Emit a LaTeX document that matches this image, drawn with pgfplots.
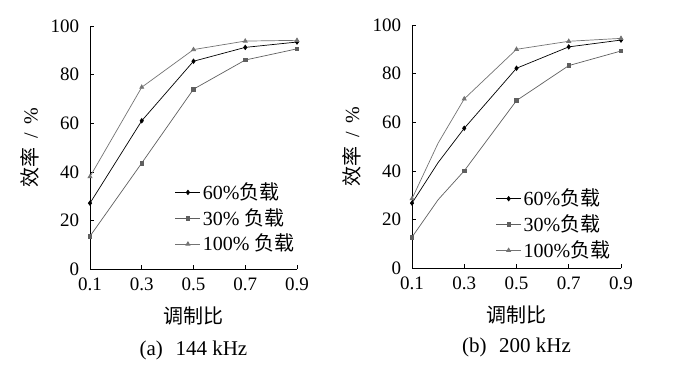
\documentclass[border=0pt]{standalone}
\usepackage{fontspec}
\setmainfont{Liberation Serif}
\newfontfamily\cjk{Noto Sans CJK SC}
\usepackage{pgfplots}
\pgfplotsset{compat=1.18}
\definecolor{gA}{RGB}{0,0,0}
\definecolor{gB}{RGB}{95,95,95}
\definecolor{gC}{RGB}{115,115,115}
\begin{document}
\fontsize{20}{23}\selectfont
\begin{tikzpicture}
\useasboundingbox (0pt,0pt) rectangle (683pt,376pt);
\pgfplotsset{
  myax/.style={
    scale only axis, axis lines*=left,
    xmin=0.1, xmax=0.9, ymin=0, ymax=100,
    xtick={0.1,0.3,0.5,0.7,0.9},
    xticklabels={0.1,0.3,0.5,0.7,0.9},
    ytick={0,20,40,60,80,100},
    tick align=inside, major tick length=4pt,
    /pgf/number format/assume math mode=true,
    font=\fontsize{20}{23}\selectfont,
    tick label style={font=\fontsize{19}{22}\selectfont},
    yticklabel style={xshift=-4pt},
    xticklabel style={yshift=-2pt},
    tick style={black, line width=0.6pt},
    axis line style={black, line width=0.6pt},
    clip=false,
    xlabel={\cjk 调制比},
    ylabel={{\cjk 效率}\hspace{0.45em}/\hspace{0.45em}\%},
    xlabel style={at={(axis description cs:0.5,-0.195)}, anchor=center, font=\fontsize{20}{23}\selectfont},
    ylabel style={at={(axis description cs:-0.29,0.5)}, anchor=center, font=\fontsize{20}{23}\selectfont},
    legend style={draw=none, fill=none, inner sep=0pt, row sep=2pt,
      font=\fontsize{20}{23}\selectfont, cells={anchor=west}},
    legend image code/.code={\draw[mark indices={2}] plot coordinates {(0pt,0pt) (12.5pt,0pt) (25pt,0pt)};},
  },
  s60/.style={color=gA, line width=0.7pt, mark=diamond*, mark size=2.2pt},
  s30/.style={color=gB, line width=0.7pt, mark=square*, mark size=1.8pt},
  s100/.style={color=gC, line width=0.7pt, mark=triangle*, mark size=2.3pt},
}
\begin{axis}[myax, at={(90pt,107pt)}, anchor=origin, width=207pt, height=243pt,
  legend style={at={(axis description cs:0.41,0.365)}, anchor=north west}]
\addplot[s60] coordinates {(0.1,27.1) (0.3,61.0) (0.5,85.5) (0.7,91.2) (0.9,93.4)};
\addlegendentry{60\%{\cjk 负载}}
\addplot[s30] coordinates {(0.1,13.5) (0.3,43.6) (0.5,74.0) (0.7,86.0) (0.9,90.6)};
\addlegendentry{30\% {\cjk 负载}}
\addplot[s100] coordinates {(0.1,38.0) (0.3,74.8) (0.5,90.3) (0.7,93.8) (0.9,94.1)};
\addlegendentry{100\% {\cjk 负载}}
\node[anchor=center, font=\fontsize{21}{24}\selectfont] at (axis description cs:0.5,-0.335) {(a)\hspace{0.6em}144 kHz};
\end{axis}
\begin{axis}[myax, at={(412pt,108pt)}, anchor=origin, width=209pt, height=243pt,
  legend style={at={(axis description cs:0.40,0.335)}, anchor=north west}]
\addplot[s60, mark indices={1,3,4,5,6}] coordinates {(0.1,26.7) (0.2,43.4) (0.3,57.5) (0.5,82.2) (0.7,91.0) (0.9,93.8)};
\addlegendentry{60\%{\cjk 负载}}
\addplot[s30, mark indices={1,3,4,5,6}] coordinates {(0.1,12.7) (0.2,28.1) (0.3,40.0) (0.5,68.9) (0.7,83.3) (0.9,89.3)};
\addlegendentry{30\%{\cjk 负载}}
\addplot[s100, mark indices={1,3,4,5,6}] coordinates {(0.1,28.5) (0.2,51.4) (0.3,69.6) (0.5,90.0) (0.7,93.3) (0.9,94.5)};
\addlegendentry{100\%{\cjk 负载}}
\node[anchor=center, font=\fontsize{21}{24}\selectfont] at (axis description cs:0.5,-0.325) {(b)\hspace{0.6em}200 kHz};
\end{axis}
\end{tikzpicture}
\end{document}
